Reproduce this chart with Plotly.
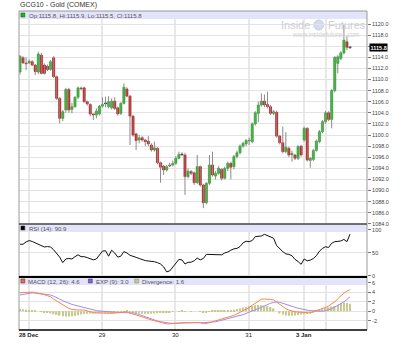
import plotly.graph_objects as go

# ---------------- data (hourly bars) ----------------
opens = [1111.35, 1113.9, 1113.0, 1113.0, 1113.2, 1112.6, 1111.35, 1114.4, 1112.6, 1112.4,
         1111.8, 1113.9, 1110.5, 1106.6, 1103.0, 1104.5, 1108.2, 1104.6, 1105.1, 1106.8,
         1108.5, 1108.5, 1106.0, 1105.5, 1103.8, 1103.6, 1103.8, 1105.2, 1105.7, 1105.1,
         1104.9, 1106.1, 1104.9, 1103.9, 1105.7, 1108.3, 1107.0, 1103.4, 1100.2, 1099.1,
         1099.5, 1099.1, 1098.9, 1098.2, 1097.3, 1097.6, 1095.0, 1094.4, 1093.7, 1094.6,
         1094.6, 1094.9, 1095.8, 1096.5, 1096.4, 1092.5, 1093.4, 1093.2, 1091.4, 1094.3,
         1091.0, 1087.8, 1091.3, 1094.6, 1092.6, 1093.1, 1093.8, 1092.2, 1094.0, 1094.9,
         1094.3, 1096.1, 1096.8, 1098.0, 1098.4, 1099.0, 1098.8, 1102.0, 1103.9, 1105.4,
         1106.1, 1105.5, 1105.1, 1103.9, 1104.1, 1099.8, 1098.6, 1097.0, 1097.6, 1096.4,
         1096.4, 1095.8, 1098.0, 1099.1, 1101.2, 1095.4, 1095.6, 1097.2, 1098.8, 1100.6,
         1102.4, 1104.0, 1102.8, 1108.0, 1112.9, 1113.8, 1114.8, 1116.8, 1115.8]
highs = [1114.4, 1114.2, 1114.0, 1113.6, 1113.5, 1112.8, 1115.0, 1114.8, 1112.9, 1112.7,
         1113.5, 1114.2, 1110.7, 1106.8, 1104.5, 1108.5, 1108.5, 1105.8, 1107.0, 1108.7,
         1108.7, 1108.7, 1106.2, 1105.7, 1103.9, 1104.8, 1105.4, 1106.8, 1106.9, 1107.0,
         1106.6, 1106.8, 1105.1, 1105.9, 1109.3, 1108.6, 1107.2, 1103.6, 1100.4, 1100.0,
         1099.8, 1099.3, 1099.8, 1098.5, 1098.8, 1097.8, 1095.2, 1094.6, 1094.6, 1095.0,
         1095.4, 1096.2, 1097.0, 1096.9, 1096.8, 1094.0, 1093.7, 1093.4, 1096.4, 1094.5,
         1091.2, 1091.5, 1096.4, 1097.0, 1093.5, 1094.4, 1094.0, 1094.3, 1095.2, 1095.2,
         1096.4, 1097.2, 1098.3, 1098.8, 1099.3, 1099.5, 1102.3, 1104.3, 1106.0, 1107.5,
         1107.3, 1107.8, 1105.4, 1104.5, 1104.4, 1100.0, 1101.5, 1100.5, 1097.9, 1097.2,
         1096.6, 1098.2, 1098.2, 1101.5, 1101.4, 1096.0, 1097.5, 1099.2, 1100.9, 1102.7,
         1104.3, 1104.3, 1108.3, 1114.2, 1114.4, 1115.1, 1119.8, 1117.8, 1115.9]
lows = [1110.9, 1112.8, 1111.7, 1112.8, 1112.4, 1110.8, 1111.0, 1110.9, 1110.9, 1111.5,
        1111.6, 1110.3, 1106.3, 1102.1, 1102.5, 1104.0, 1104.0, 1103.9, 1104.9, 1106.5,
        1108.1, 1105.8, 1105.3, 1103.4, 1102.7, 1103.0, 1103.5, 1104.9, 1105.0, 1104.8,
        1104.6, 1104.5, 1103.5, 1103.6, 1105.5, 1106.8, 1098.2, 1099.7, 1097.3, 1098.5,
        1098.8, 1098.0, 1098.0, 1097.0, 1097.0, 1094.7, 1091.4, 1092.8, 1093.4, 1094.2,
        1094.3, 1094.6, 1095.6, 1096.2, 1089.2, 1092.2, 1092.8, 1091.0, 1091.2, 1090.7,
        1086.8, 1087.5, 1091.0, 1092.5, 1092.0, 1092.8, 1091.8, 1092.0, 1093.5, 1092.0,
        1093.8, 1095.8, 1096.5, 1097.7, 1098.0, 1098.2, 1098.5, 1101.7, 1102.3, 1105.1,
        1105.0, 1104.8, 1103.6, 1103.6, 1099.5, 1098.3, 1096.7, 1096.7, 1096.0, 1095.2,
        1095.5, 1095.5, 1096.1, 1098.8, 1095.2, 1094.1, 1095.3, 1097.0, 1098.5, 1100.3,
        1102.0, 1102.5, 1101.2, 1107.7, 1111.1, 1113.5, 1114.5, 1115.3, 1115.5]
closes = [1114.2, 1113.0, 1112.9, 1113.3, 1112.6, 1111.4, 1114.6, 1111.1, 1111.1, 1111.8,
          1113.2, 1110.5, 1106.6, 1103.0, 1104.2, 1108.2, 1104.5, 1105.1, 1106.8, 1108.5,
          1108.4, 1106.0, 1105.6, 1103.8, 1103.6, 1104.3, 1105.2, 1105.5, 1105.7, 1106.0,
          1106.1, 1104.8, 1103.8, 1105.7, 1108.6, 1107.0, 1103.4, 1100.0, 1099.0, 1099.5,
          1099.1, 1098.8, 1098.4, 1097.3, 1097.7, 1095.0, 1094.2, 1093.7, 1094.3, 1094.5,
          1094.9, 1095.8, 1096.5, 1096.5, 1092.5, 1093.5, 1093.1, 1091.4, 1094.3, 1091.0,
          1087.8, 1091.3, 1094.6, 1092.8, 1093.1, 1094.0, 1092.2, 1094.0, 1094.9, 1094.2,
          1096.1, 1096.8, 1098.0, 1098.5, 1099.0, 1099.1, 1102.0, 1104.0, 1105.4, 1106.1,
          1105.4, 1105.1, 1103.9, 1104.2, 1099.8, 1098.6, 1097.0, 1097.8, 1096.4, 1096.7,
          1095.8, 1097.9, 1096.4, 1101.2, 1095.5, 1095.8, 1097.2, 1098.9, 1100.6, 1102.4,
          1104.0, 1102.8, 1108.0, 1114.0, 1114.1, 1114.8, 1117.1, 1115.8, 1115.8]

rsi = [69, 69, 74, 77, 75, 72, 70, 66, 63, 64,
       63, 57, 50, 41, 29, 37, 38, 37, 42, 46,
       42, 42, 40, 37, 35, 37, 46, 54, 55, 43,
       56, 50, 41, 43, 53, 50, 45, 42, 40.5, 38,
       35, 33.5, 32.6, 32.6, 31, 29, 26, 20, 9, 11,
       19, 28, 36, 35, 26, 29.7, 30, 33, 39, 35,
       38, 47, 47, 46, 46, 47, 46, 50, 52, 56,
       59, 60, 64, 72, 75.5, 74.6, 77, 85.5, 87, 87,
       90.6, 87.6, 83.3, 82, 66, 59, 53, 48, 47, 44,
       36, 31.5, 25.4, 37, 33, 34.5, 38, 44, 54, 60,
       63.5, 62, 71, 74.6, 76, 76, 79.5, 74.6, 90.9]

macd = [3.93, 4.0, 4.07, 4.14, 4.05, 3.95, 3.83, 3.7, 3.5, 3.3,
        3.05, 2.6, 2.2, 1.7, 1.25, 0.9, 0.6, 0.4, 0.27, 0.27,
        0.27, 0.27, 0.1, -0.1, -0.28, -0.33, -0.38, -0.42, -0.42, -0.42,
        -0.42, -0.4, -0.35, -0.25, -0.15, -0.1, -0.35, -0.58, -0.8, -1.05,
        -1.27, -1.45, -1.63, -1.82, -2.0, -2.2, -2.35, -2.5, -2.65, -2.65,
        -2.58, -2.5, -2.4, -2.33, -2.38, -2.4, -2.36, -2.33, -2.37, -2.42,
        -2.6, -2.6, -2.4, -2.2, -2.05, -1.88, -1.7, -1.5, -1.33, -1.1,
        -0.85, -0.55, -0.25, 0.1, 0.4, 0.8, 1.3, 1.77, 2.2, 2.55,
        2.6, 2.6, 2.5, 2.4, 1.95, 1.45, 0.95, 0.55, 0.25, 0.0,
        -0.1, -0.15, -0.2, -0.25, -0.35, -0.35, -0.05, 0.15, 0.3, 0.45,
        0.8, 1.12, 1.55, 2.0, 2.65, 3.35, 3.85, 4.25, 4.6]
signal = [3.45, 3.6, 3.75, 3.9, 3.9, 3.85, 3.8, 3.75, 3.68, 3.6,
          3.45, 3.2, 2.95, 2.6, 2.25, 1.95, 1.65, 1.45, 1.3, 1.12,
          0.95, 0.8, 0.65, 0.45, 0.3, 0.15, 0.08, 0.0, -0.06, -0.1,
          -0.15, -0.2, -0.22, -0.22, -0.22, -0.22, -0.25, -0.35, -0.45, -0.7,
          -0.9, -1.13, -1.35, -1.6, -1.8, -2.05, -2.2, -2.35, -2.45, -2.5,
          -2.53, -2.5, -2.45, -2.42, -2.4, -2.37, -2.34, -2.33, -2.36, -2.38,
          -2.4, -2.37, -2.35, -2.33, -2.2, -2.05, -1.86, -1.7, -1.5, -1.35,
          -1.2, -1.05, -0.87, -0.7, -0.45, -0.25, -0.05, 0.25, 0.55, 0.85,
          1.15, 1.45, 1.69, 1.85, 2.0, 1.9, 1.72, 1.5, 1.25, 1.05,
          0.85, 0.65, 0.48, 0.35, 0.25, 0.15, 0.1, 0.02, -0.05, 0.0,
          0.12, 0.27, 0.55, 0.9, 1.25, 1.6, 2.0, 2.5, 3.05]
divergence = [0.5, 0.45, 0.4, 0.3, 0.2, 0.1, 0.0, -0.1, -0.2, -0.3,
              -0.45, -0.6, -0.75, -0.9, -1.05, -1.1, -1.1, -1.05, -1.0, -0.85,
              -0.7, -0.55, -0.5, -0.5, -0.5, -0.45, -0.4, -0.35, -0.3, -0.25,
              -0.2, -0.15, -0.1, -0.05, 0.05, 0.1, -0.1, -0.25, -0.35, -0.45,
              -0.5, -0.55, -0.55, -0.5, -0.45, -0.4, -0.3, -0.2, -0.2, -0.15,
              -0.05, 0.0, 0.05, 0.1, 0.02, 0.0, -0.02, 0.0, 0.0, -0.05,
              -0.2, -0.22, -0.05, 0.13, 0.15, 0.17, 0.16, 0.2, 0.17, 0.25,
              0.35, 0.5, 0.62, 0.8, 0.85, 1.05, 1.2, 1.3, 1.35, 1.3,
              1.2, 1.1, 0.9, 0.6, 0.0, -0.45, -0.75, -0.9, -0.95, -0.95,
              -0.9, -0.8, -0.68, -0.6, -0.55, -0.45, -0.15, 0.13, 0.35, 0.45,
              0.7, 0.85, 1.0, 1.1, 1.4, 1.75, 1.85, 1.75, 1.6]

day_ticks = [2.84, 26.84, 50.84, 74.84, 92.84, 100.1]
day_labels = ["<b>28 Dec</b>", "29", "30", "31", "<b>3 Jan</b>", ""]
price_ticks = [1084 + 2 * k for k in range(19)]
rsi_ticks = [0, 50, 100]
macd_ticks = [-4, -2, 0, 2, 4, 6]

title_text = "GCG10 - Gold (COMEX)"

# ---------------- figure ----------------
n = len(opens)
idx = list(range(n))
FONT = "Liberation Sans, Arial, sans-serif"

wx, wy = [], []
for i in idx:
    wx += [i, i, None]
    wy += [lows[i], highs[i], None]

body_base, body_h, body_col, body_line = [], [], [], []
for o, c in zip(opens, closes):
    h = abs(c - o)
    if h < 0.15:
        body_base.append(min(o, c) - 0.075)
        body_h.append(0.15)
    else:
        body_base.append(min(o, c))
        body_h.append(h)
    if c > o:
        body_col.append("#00d400"); body_line.append("#109010")
    elif c < o:
        body_col.append("#e00000"); body_line.append("#a00000")
    else:
        body_col.append("#000000"); body_line.append("#000000")

fig = go.Figure()
fig.add_trace(go.Scatter(x=wx, y=wy, mode="lines", line=dict(color="#8a8a8a", width=1),
                         xaxis="x", yaxis="y", hoverinfo="skip"))
fig.add_trace(go.Bar(x=idx, y=body_h, base=body_base, width=0.72,
                     marker=dict(color=body_col, line=dict(color=body_line, width=0.5)),
                     xaxis="x", yaxis="y"))
fig.add_trace(go.Scatter(x=idx, y=rsi, mode="lines", line=dict(color="#111111", width=1),
                         xaxis="x2", yaxis="y2"))
fig.add_trace(go.Bar(x=idx, y=divergence, width=0.5,
                     marker=dict(color="#c9c98e", line=dict(width=0)),
                     xaxis="x3", yaxis="y3"))
fig.add_trace(go.Scatter(x=idx, y=signal, mode="lines", line=dict(color="#a08cf4", width=1),
                         xaxis="x3", yaxis="y3"))
fig.add_trace(go.Scatter(x=idx, y=macd, mode="lines", line=dict(color="#ff8448", width=1),
                         xaxis="x3", yaxis="y3"))

W, H = 400, 351
L, R, T, B = 19, 20, 11, 21
PW, PH = W - L - R, H - T - B


def px(xp):
    return (xp - L) / PW


def py(yp):
    return (H - B - yp) / PH


main_dom = [py(224), 1.0]
rsi_dom = [py(277), py(224)]
macd_dom = [0.0, py(277)]
xr = [-0.32, -0.32 + PW / 3.17]

xcommon = dict(range=xr, tickvals=day_ticks, showgrid=True, gridcolor="#e8e8e8", gridwidth=2,
               zeroline=False, showline=False, ticks="", fixedrange=True)
ycommon = dict(side="right", showgrid=True, gridcolor="#e3e3e3", gridwidth=1, zeroline=False,
               ticks="outside", ticklen=3, tickcolor="#777", tickwidth=1,
               tickfont=dict(size=5.5, color="#444", family=FONT), showline=False)

price_text = ["" if v == 1116 else f"{v:.1f}" for v in price_ticks]

fig.update_layout(
    width=W, height=H, margin=dict(l=L, r=R, t=T, b=B),
    paper_bgcolor="white", plot_bgcolor="white", showlegend=False,
    barmode="overlay", hovermode=False,
    font=dict(family=FONT, size=6, color="#444"),
    xaxis=dict(domain=[0, 1], anchor="y", showticklabels=False, **xcommon),
    xaxis2=dict(domain=[0, 1], anchor="y2", showticklabels=False, **xcommon),
    xaxis3=dict(domain=[0, 1], anchor="y3", showticklabels=True, ticktext=day_labels,
                tickfont=dict(size=6, color="#222", family=FONT), **xcommon),
    yaxis=dict(domain=main_dom, anchor="x", range=[1120 - (224 - 11) / 5.55 - (24 - 11) / 5.55 * 0 + (0), 0],
               tickvals=price_ticks, ticktext=price_text, **ycommon),
    yaxis2=dict(domain=rsi_dom, anchor="x2", range=[-2.2, 113], tickvals=rsi_ticks,
                ticktext=[str(v) for v in rsi_ticks], **ycommon),
    yaxis3=dict(domain=macd_dom, anchor="x3", range=[-3.95, 7.25], tickvals=macd_ticks,
                ticktext=[str(v) for v in macd_ticks], **ycommon),
)
fig.layout.yaxis.range = [1120 - (224 - 24) / 5.55, 1120 + (24 - 11) / 5.55]

shapes = []
LAV = "#e3e3f9"
for top in (11, 224, 277):
    shapes.append(dict(type="rect", xref="paper", yref="paper", x0=0, x1=1,
                       y0=py(top + 8), y1=py(top), fillcolor=LAV, line=dict(width=0), layer="above"))
# borders / separators
shapes.append(dict(type="line", xref="paper", yref="paper", x0=0, x1=0, y0=0, y1=1,
                   line=dict(color="#9a9a9a", width=1)))
shapes.append(dict(type="line", xref="paper", yref="paper", x0=1, x1=1, y0=0, y1=1,
                   line=dict(color="#9a9a9a", width=1)))
shapes.append(dict(type="line", xref="paper", yref="paper", x0=0, x1=1, y0=1, y1=1,
                   line=dict(color="#9a9a9a", width=1)))
shapes.append(dict(type="line", xref="paper", yref="paper", x0=0, x1=1, y0=py(224), y1=py(224),
                   line=dict(color="#444444", width=1.5)))
shapes.append(dict(type="line", xref="paper", yref="paper", x0=0, x1=1, y0=py(277), y1=py(277),
                   line=dict(color="#000000", width=2)))
shapes.append(dict(type="line", xref="paper", yref="paper", x0=0, x1=1, y0=0, y1=0,
                   line=dict(color="#000000", width=1.5)))


def square(x0p, ycp, color, border="#333"):
    return dict(type="rect", xref="paper", yref="paper", x0=px(x0p), x1=px(x0p + 4),
                y0=py(ycp + 2), y1=py(ycp - 2), fillcolor=color,
                line=dict(color=border, width=0.5), layer="above")


shapes.append(square(21, 15, "#00cc00"))
shapes.append(square(21, 228, "#000000"))
shapes.append(square(21, 281, "#ff6a28"))
shapes.append(square(91, 281, "#8866dd"))
shapes.append(square(139, 281, "#c8c890", "#888860"))
# watermark logo
shapes.append(dict(type="circle", xref="paper", yref="paper", x0=px(325), x1=px(335),
                   y0=py(30), y1=py(20), fillcolor="#d6dceb", line=dict(color="#c4ccdd", width=1),
                   layer="below"))
fig.update_layout(shapes=shapes)

ann = []


def text(xp, yp, s, size=6, color="#555", anchor="left", **kw):
    ann.append(dict(xref="paper", yref="paper", x=px(xp), y=py(yp), text=s, showarrow=False,
                    xanchor=anchor, yanchor="middle", font=dict(size=size, color=color, family=FONT),
                    **kw))


text(18, 5, title_text, size=7, color="#333")
text(27, 15.5, f"Op:{opens[-1]}, Hi:{highs[-1]}, Lo:{lows[-1]}, Cl:{closes[-1]}")
text(27, 228.5, f"RSI (14): {rsi[-1]}")
text(26, 281.5, f"MACD (12, 26): {macd[-1]}")
text(97, 281.5, f"EXP (9): {signal[-1]:.1f}")
text(145, 281.5, f"Divergence: {divergence[-1]}")
text(323, 25, "Inside", size=11, color="#cfcfcf", anchor="right")
text(337, 25, "Futures", size=11, color="#cfcfcf", anchor="left")
text(337, 34, "www.insidefutures.com", size=6.5, color="#d2d2d2", anchor="center")

ann.append(dict(xref="paper", yref="y", x=1, xshift=2, y=closes[-1], text=f"<b>{closes[-1]}</b>",
                showarrow=False, xanchor="left", yanchor="middle", bgcolor="#000000",
                font=dict(size=5.5, color="white", family=FONT), borderpad=0.5))
fig.update_layout(annotations=ann)

fig.write_html("out.html")
